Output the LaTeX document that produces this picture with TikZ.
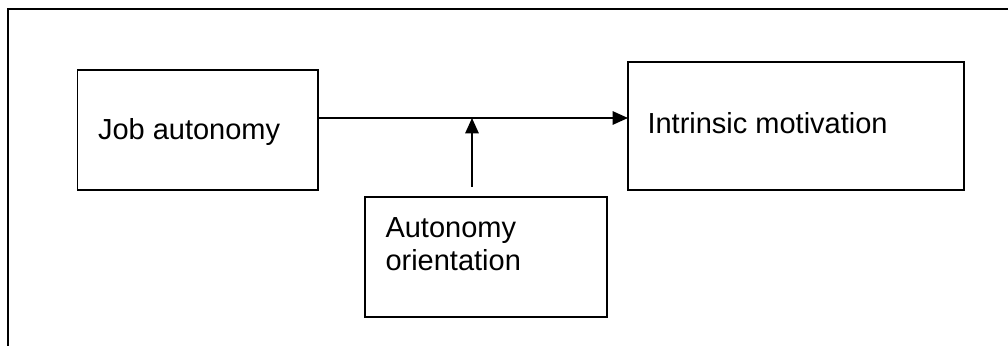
\documentclass[tikz,border=0pt]{standalone}
\usepackage{fontspec}
\setmainfont{Liberation Sans}
\usetikzlibrary{arrows.meta}
\begin{document}
\begin{tikzpicture}[x=0.75pt,y=-0.75pt,
  box/.style={draw,line width=0.9pt,inner sep=0pt,outer sep=0pt,anchor=north west},
  txt/.style={inner sep=0pt,outer sep=0pt,font=\fontsize{21.75pt}{24.75pt}\selectfont,align=left},
  link/.style={line width=1.3pt,-{Triangle[length=11.5pt,width=10pt]}}]
\useasboundingbox (0,0) rectangle (1008,346);
% open frame: top and left edges only
\draw[line width=1.6pt] (8,346) -- (8,9) -- (1008,9);
% boxes
\node[box,minimum width=180.2pt,minimum height=90pt] (job) at (77.7,70) {};
\node[box,minimum width=252pt,minimum height=96pt] (intr) at (628,62) {};
\node[box,minimum width=181.5pt,minimum height=90pt] (orient) at (365,197) {};
% box texts
\node[txt,anchor=base west] (jobtxt) at (98,140) {Job autonomy};
\node[txt,anchor=base west] (intrtxt) at (647.5,134) {Intrinsic motivation};
\node[txt,anchor=base west] (orienttxt) at (385.5,270) {Autonomy\\orientation};
% connectors
\coordinate (junction) at (472,118);
\coordinate (modstart) at (472,187);
\draw[link] (job.east |- junction) -- (intr.west |- junction);
\draw[link] (modstart) -- (junction);
\end{tikzpicture}
\end{document}
